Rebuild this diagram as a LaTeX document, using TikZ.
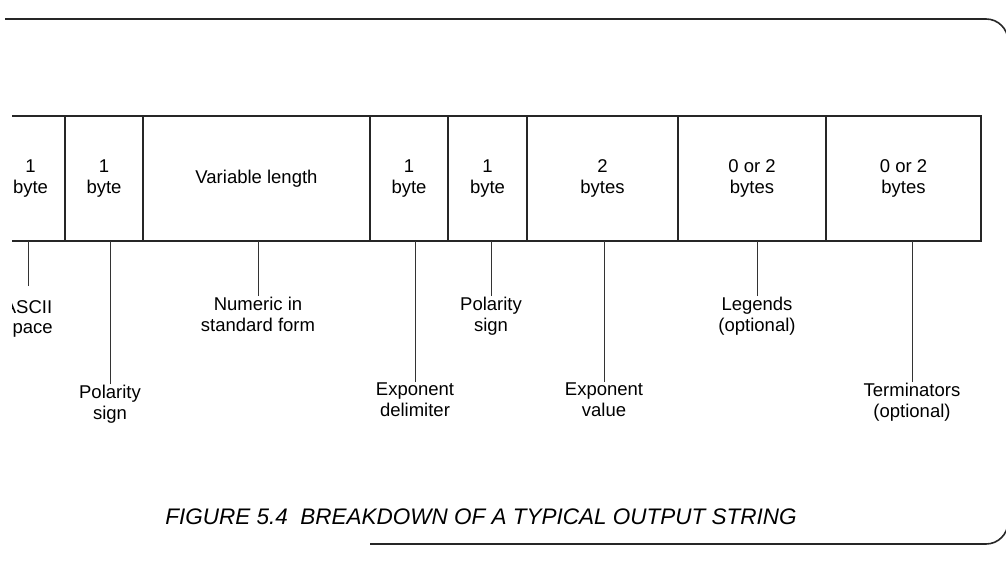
\documentclass[tikz,border=0pt]{standalone}
\usepackage{fontspec}
\setmainfont{Liberation Sans}
\usetikzlibrary{positioning,calc}

\begin{document}
\begin{tikzpicture}[
    x=1pt, y=-1pt,
    font=\fontsize{18.5}{20.5}\selectfont,
    field/.style={
        draw=black!85, line width=1.1pt, align=center,
        inner sep=0pt, outer sep=0pt,
        minimum height=125pt, minimum width=#1},
    lbl/.style={align=center, inner sep=1pt, anchor=north},
    lead/.style={draw=black!80, line width=0.8pt},
    frame/.style={draw=black!85, line width=1.6pt, rounded corners=22pt},
    caption/.style={font=\fontsize{22.5}{26}\selectfont\itshape, inner sep=0pt}
]
\useasboundingbox (0,0) rectangle (1006,560);

%% ══════════════════════════════ FRAME ══════════════════════════════
\draw[frame] (5,19) -| (1008,544) -- (370,544);

\begin{scope}
\clip (12,0) rectangle (1006,560);

%% ══════════════════════════════ FIELDS ══════════════════════════════
\node[field=69pt, anchor=west] (fld_ascii) at (-4,178.5) {1\\byte};
\node[field=78pt, right=0pt of fld_ascii] (fld_pol1) {1\\byte};
\node[field=227pt, right=0pt of fld_pol1] (fld_num) {Variable length};
\node[field=78pt, right=0pt of fld_num] (fld_expdel) {1\\byte};
\node[field=79pt, right=0pt of fld_expdel] (fld_pol2) {1\\byte};
\node[field=151pt, right=0pt of fld_pol2] (fld_expval) {2\\bytes};
\node[field=148pt, right=0pt of fld_expval] (fld_leg) {0 or 2\\bytes};
\node[field=155pt, right=0pt of fld_leg] (fld_term) {0 or 2\\bytes};

%% ══════════════════════════════ LABELS ══════════════════════════════
%% short leaders end near y=296, long ones near y=382
\node[lbl] (lbl_ascii)  at (28,299)  {ASCII\\space};
\node[lbl] (lbl_pol1)   at (110,384) {Polarity\\sign};
\node[lbl] (lbl_num)    at (258,296) {Numeric in\\standard form};
\node[lbl] (lbl_expdel) at (415,382) {Exponent\\delimiter};
\node[lbl] (lbl_pol2)   at (491,296) {Polarity\\sign};
\node[lbl] (lbl_expval) at (604,382) {Exponent\\value};
\node[lbl] (lbl_leg)    at (757,296) {Legends\\(optional)};
\node[lbl] (lbl_term)   at (912,382) {Terminators\\(optional)};

\draw[lead, shorten <=13pt] (lbl_ascii.north) -- (lbl_ascii.north |- fld_ascii.south);
\draw[lead] (lbl_pol1.north)   -- (lbl_pol1.north |- fld_pol1.south);
\draw[lead] (lbl_num.north)    -- (lbl_num.north |- fld_num.south);
\draw[lead] (lbl_expdel.north) -- (lbl_expdel.north |- fld_expdel.south);
\draw[lead] (lbl_pol2.north)   -- (lbl_pol2.north |- fld_pol2.south);
\draw[lead] (lbl_expval.north) -- (lbl_expval.north |- fld_expval.south);
\draw[lead] (lbl_leg.north)    -- (lbl_leg.north |- fld_leg.south);
\draw[lead] (lbl_term.north)   -- (lbl_term.north |- fld_term.south);
\end{scope}

%% ══════════════════════════════ CAPTION ══════════════════════════════
\node[caption] (fig_cap) at (481,517)
    {FIGURE 5.4\ \ BREAKDOWN OF A TYPICAL OUTPUT STRING};

\end{tikzpicture}
\end{document}
